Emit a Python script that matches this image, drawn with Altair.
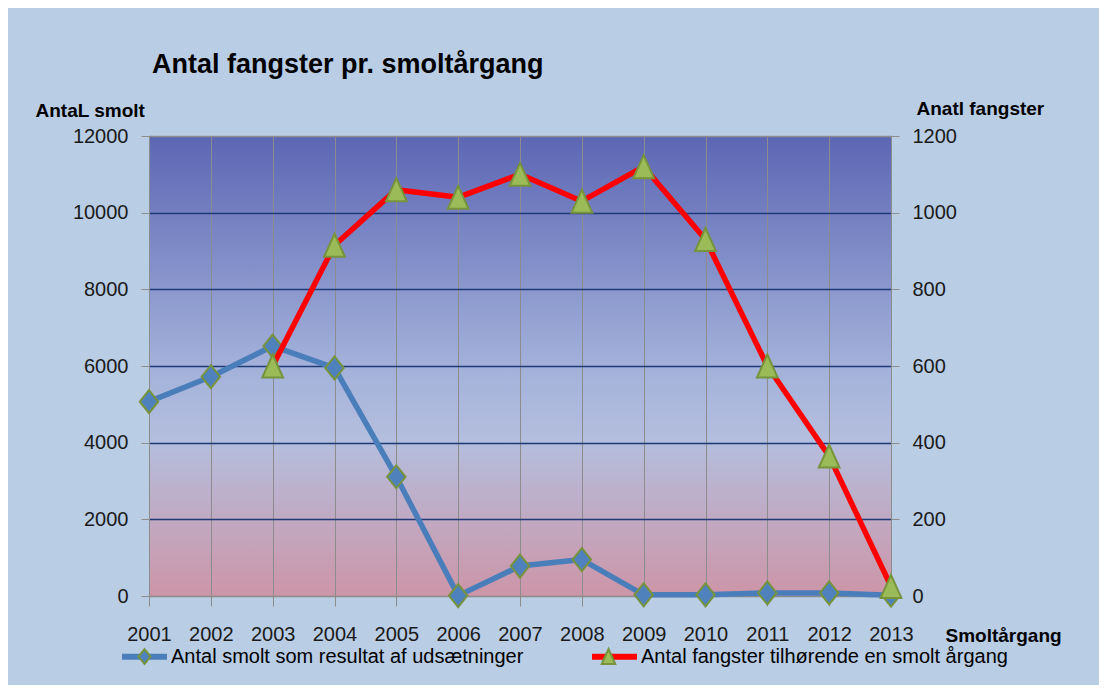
import altair as alt
import pandas as pd

FONT = "Liberation Sans, Arial, sans-serif"

years = ["2001", "2002", "2003", "2004", "2005", "2006", "2007",
         "2008", "2009", "2010", "2011", "2012", "2013"]
smolt = [5070, 5720, 6520, 5950, 3110, 10, 780, 950, 30, 30, 80, 80, 20]
fangster = [None, None, 600, 915, 1060, 1040, 1100, 1030, 1120, 930, 600, 365, 25]

series_names = ["Antal smolt som resultat af udsætninger",
                "Antal fangster tilhørende en smolt årgang"]
line_colors = ["#4A7EBB", "#FF0000"]
marker_fills = ["#4F81BD", "#9BBB59"]
marker_paths = ["M0,-0.333L0.267,0L0,0.333L-0.267,0Z",
                "M0,-0.333L0.3,0.333L-0.3,0.333Z"]

chart_title = "Antal fangster pr. smoltårgang"
left_title = "AntaL smolt"
right_title = "Anatl fangster"
x_title = "Smoltårgang"
left_ticks = [0, 2000, 4000, 6000, 8000, 10000, 12000]
right_ticks = [0, 200, 400, 600, 800, 1000, 1200]

ZW = "\u200b"
marker_names = [s + ZW for s in series_names]

smolt_df = pd.DataFrame({"år": years, "værdi": smolt,
                         "serie": series_names[0], "markør": marker_names[0]})
fang_df = pd.DataFrame({"år": years, "værdi": fangster,
                        "serie": series_names[1], "markør": marker_names[1]}).dropna()

GRID_NAVY = "#1F3A78"
GRAY = "#8C8C8C"
LABEL_SIZE = 20
AXTITLE_SIZE = 19
LEGEND_SIZE = 20

x_enc = alt.X("år:O",
              scale=alt.Scale(type="point", padding=0, domain=years),
              axis=alt.Axis(title=x_title, titleAngle=0, titleAlign="left",
                            titleBaseline="alphabetic", titleX=796, titleY=45,
                            titleFont=FONT, titleFontSize=AXTITLE_SIZE, titleFontWeight="bold",
                            titleColor="black",
                            labelAngle=0, labelFont=FONT, labelFontSize=LABEL_SIZE,
                            labelColor="#1A1A1A", labelPadding=18, tickSize=10,
                            tickColor=GRAY, domainColor=GRAY, grid=True,
                            gridColor=GRAY, gridWidth=1))

LEG_X = -30
LEG_Y = 495
stroke_legend = alt.Legend(orient="none", legendX=LEG_X, legendY=LEG_Y, direction="horizontal",
                           title=None, symbolType="stroke", symbolSize=2025,
                           symbolStrokeWidth=6, labelFont=FONT, labelFontSize=LEGEND_SIZE,
                           labelColor="black", labelOffset=1, columnPadding=56,
                           labelLimit=0)
# marker-only legend drawn exactly over the line legend (no text of its own)
marker_legend = alt.Legend(orient="none", legendX=LEG_X + 2, legendY=LEG_Y + 2,
                           direction="horizontal", title=None, symbolSize=2025,
                           symbolStrokeWidth=2, labelFont=FONT, labelFontSize=LEGEND_SIZE,
                           labelExpr="''", labelOffset=5, columnPadding=412, labelLimit=0)

stroke_enc = alt.Stroke("serie:N", scale=alt.Scale(domain=series_names, range=line_colors),
                        legend=stroke_legend)
shape_enc = alt.Shape("markør:N", scale=alt.Scale(domain=marker_names, range=marker_paths),
                      legend=marker_legend)
fill_enc = alt.Fill("markør:N", scale=alt.Scale(domain=marker_names, range=marker_fills),
                    legend=marker_legend)

left_y = alt.Y("værdi:Q", scale=alt.Scale(domain=[0, 12000]),
               axis=alt.Axis(orient="left", values=left_ticks, format="d",
                             title=left_title, titleAngle=0, titleAlign="left",
                             titleBaseline="alphabetic", titleX=-114, titleY=-20,
                             titleFont=FONT, titleFontSize=AXTITLE_SIZE, titleFontWeight="bold",
                             titleColor="black",
                             labelFont=FONT, labelFontSize=LABEL_SIZE, labelColor="#1A1A1A",
                             labelPadding=13, tickSize=8, tickColor=GRAY,
                             domainColor=GRAY, grid=True, gridWidth=1.5,
                             gridColor=alt.ExprRef(
                                 f"datum.value >= 12000 || datum.value <= 0 ? '{GRAY}' : '{GRID_NAVY}'")))
right_y = alt.Y("værdi:Q", scale=alt.Scale(domain=[0, 1200]),
                axis=alt.Axis(orient="right", values=right_ticks, format="d",
                              title=right_title, titleAngle=0, titleAlign="left",
                              titleBaseline="alphabetic", titleX=25, titleY=-22,
                              titleFont=FONT, titleFontSize=AXTITLE_SIZE, titleFontWeight="bold",
                              titleColor="black",
                              labelFont=FONT, labelFontSize=LABEL_SIZE, labelColor="#1A1A1A",
                              labelPadding=13, tickSize=8, tickColor=GRAY,
                              domainColor=GRAY, grid=False))

MARKER_SIZE = 4761


def series_layer(df, y_enc):
    line = alt.Chart(df).mark_line(strokeWidth=5.5, strokeJoin="round").encode(
        x=x_enc, y=y_enc, stroke=stroke_enc)
    pts = alt.Chart(df).mark_point(filled=True, size=MARKER_SIZE, stroke="#77933C",
                                   strokeWidth=2, opacity=1).encode(
        x=x_enc, y=y_enc, shape=shape_enc, fill=fill_enc)
    return alt.layer(line, pts)


blue = series_layer(smolt_df, left_y)
red = series_layer(fang_df, right_y)

gradient_expr = ("{gradient: 'linear', x1: 0, y1: 0, x2: 0, y2: 1, stops: ["
                 "{offset: 0, color: '#5C66B4'}, {offset: 0.5, color: '#A3B1DA'}, "
                 "{offset: 0.66, color: '#B4BEDE'}, {offset: 1, color: '#CD95A7'}]}")

chart = alt.layer(blue, red).resolve_scale(y="independent").properties(
    width=742, height=460,
    autosize=alt.AutoSizeParams(type="none"),
    padding={"left": 141, "top": 128, "right": 208, "bottom": 89},
    background="#B9CDE5",
    title=alt.TitleParams(text=chart_title, anchor="start", frame="group", font=FONT,
                          fontSize=27, fontWeight="bold", color="black", offset=21,
                          dx=3, dy=22, baseline="alphabetic"),
).configure_view(stroke=GRAY, strokeWidth=1, fill=alt.ExprRef(gradient_expr))

chart.save("out.html", embed_options={"renderer": "svg", "actions": False})
